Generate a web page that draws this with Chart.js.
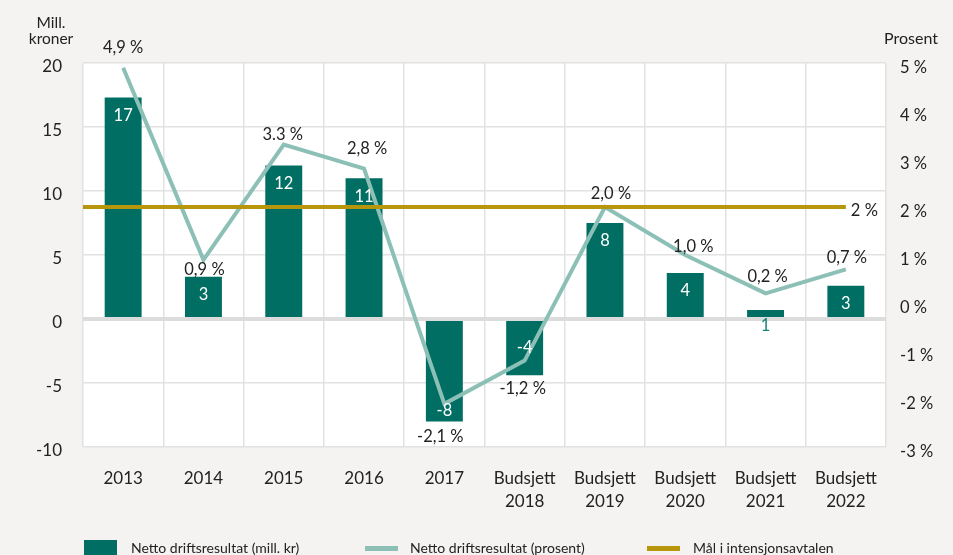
<!DOCTYPE html>
<html>
<head>
<meta charset="utf-8">
<script src="https://cdn.jsdelivr.net/npm/chart.js@4.4.1/dist/chart.umd.min.js"></script>
<style>
  html, body { margin:0; padding:0; background:#f4f3f1; }
  body { width:953px; height:555px; overflow:hidden; position:relative; font-family:Lato, "Open Sans", sans-serif; }
  #wrap { position:absolute; left:0; top:0; width:953px; height:555px; }
  #legend { position:absolute; left:0; top:538px; width:953px; height:20px; font-size:14px; color:#222; }
  .li { position:absolute; top:0; height:20px; line-height:20px; white-space:nowrap; }
  .sw { position:absolute; }
</style>
</head>
<body>
<div id="wrap"><canvas id="c" width="953" height="555"></canvas></div>
<div id="legend"></div>
<script>
const categories = [["2013"],["2014"],["2015"],["2016"],["2017"],["Budsjett","2018"],["Budsjett","2019"],["Budsjett","2020"],["Budsjett","2021"],["Budsjett","2022"]];
const resultMill = [17.3, 3.3, 12.0, 11.0, -8.0, -4.4, 7.5, 3.6, 0.7, 2.6];
const resultMillLabels = ["17","3","12","11","-8","-4","8","4","1","3"];
const resultPct = [4.9, 0.9, 3.3, 2.8, -2.1, -1.2, 2.0, 1.0, 0.2, 0.7];
const resultPctLabels = ["4,9 %","0,9 %","3.3 %","2,8 %","-2,1 %","-1,2 %","2,0 %","1,0 %","0,2 %","0,7 %"];
const targetPct = 2;
const targetLabel = "2 %";
const seriesNames = ["Netto driftsresultat (mill. kr)", "Netto driftsresultat (prosent)", "Mål i intensjonsavtalen"];
const leftTicks = {min:-10, max:20, step:5};
const rightTicks = {min:-3, max:5, step:1};

// label placement (style, not data)
const barLabelAnchor = ['end','end','end','end','end','center','end','end','below','end'];
const pctLabelDx = [0, 1, -1, 3, -4, -2, 6, 8, 2, 1];
const pctLabelDy = [-20, 10, -10, -20, 33, 28, -13, -8, -17, -12];

const BAR = '#006e62';
const LINE = '#8cc0b6';
const GOLD = '#b8960c';
const TXT = '#222222';
const FONT = 'Lato, "Open Sans", sans-serif';

const plotBg = {
  id:'plotBg',
  beforeDraw(chart){
    const {ctx, chartArea:a} = chart;
    ctx.save(); ctx.fillStyle='#ffffff';
    ctx.fillRect(a.left, a.top, a.right-a.left, a.bottom-a.top);
    ctx.restore();
  }
};

const extras = {
  id:'extras',
  afterDatasetsDraw(chart){
    const {ctx, chartArea:a, scales} = chart;
    const x = scales.x, y1 = scales.y1;
    ctx.save();
    // target line
    const ty = y1.getPixelForValue(targetPct);
    const lastX = x.getPixelForValue(categories.length-1);
    ctx.strokeStyle = GOLD; ctx.lineWidth = 4;
    ctx.beginPath(); ctx.moveTo(a.left, ty); ctx.lineTo(lastX, ty); ctx.stroke();
    ctx.fillStyle = TXT; ctx.font = '16.5px ' + FONT;
    ctx.textAlign='left'; ctx.textBaseline='middle';
    ctx.fillText(targetLabel, lastX + 5, ty + 4);

    // bar labels
    const barMeta = chart.getDatasetMeta(0);
    barMeta.data.forEach((el, i) => {
      const v = resultMill[i];
      ctx.textAlign='center'; ctx.textBaseline='middle';
      ctx.font = '16.5px ' + FONT;
      const anchor = barLabelAnchor[i];
      if (anchor === 'below') {
        ctx.fillStyle = '#1a8377';
        ctx.fillText(resultMillLabels[i], el.x, el.base + 9);
      } else {
        ctx.fillStyle = '#ffffff';
        let yy;
        if (anchor === 'center') yy = (el.y + el.base) / 2;
        else yy = v >= 0 ? el.y + 18 : el.y - 11;
        ctx.fillText(resultMillLabels[i], el.x, yy);
      }
    });

    // line labels
    const lineMeta = chart.getDatasetMeta(1);
    lineMeta.data.forEach((pt, i) => {
      ctx.fillStyle = TXT; ctx.font = '16.5px ' + FONT;
      ctx.textAlign='center'; ctx.textBaseline='middle';
      ctx.fillText(resultPctLabels[i], pt.x + pctLabelDx[i], pt.y + pctLabelDy[i]);
    });

    // axis titles
    ctx.fillStyle = TXT; ctx.font = '15.5px ' + FONT;
    ctx.textAlign='center'; ctx.textBaseline='middle';
    ctx.fillText('Mill.', 51, 23);
    ctx.fillText('kroner', 51, 39);
    ctx.font = '16px ' + FONT;
    ctx.fillText('Prosent', 911, 39);
    ctx.restore();
  }
};

const chart = new Chart(document.getElementById('c'), {
  data: {
    labels: categories,
    datasets: [
      { type:'bar', label:seriesNames[0], data:resultMill, backgroundColor:BAR, yAxisID:'y', order:2,
        barPercentage:0.46, categoryPercentage:1.0 },
      { type:'line', label:seriesNames[1], data:resultPct, borderColor:LINE, backgroundColor:LINE, borderWidth:4,
        pointRadius:0, yAxisID:'y1', order:1, tension:0 },
      { type:'line', label:seriesNames[2], data:resultPct.map(()=>targetPct), borderColor:GOLD, backgroundColor:GOLD,
        borderWidth:4, showLine:false, pointRadius:0, yAxisID:'y1', order:0 }
    ]
  },
  options: {
    responsive:false, animation:false, maintainAspectRatio:false,
    layout:{ padding:{ top:63, bottom:0, left:0, right:0 } },
    plugins:{ legend:{display:false}, tooltip:{enabled:false} },
    scales:{
      x:{
        offset:true,
        grid:{ offset:true, color:'#e2e2e2', lineWidth:1.5, drawTicks:false },
        border:{ display:false },
        ticks:{ color:TXT, font:{family:FONT, size:17, lineHeight:1.35}, padding:20, maxRotation:0, autoSkip:false },
        afterFit(s){ s.height = 108; }
      },
      y:{
        position:'left', min:leftTicks.min, max:leftTicks.max,
        grid:{ color:(c)=> c.tick && c.tick.value===0 ? '#dcdcdc' : '#e2e2e2',
               lineWidth:(c)=> c.tick && c.tick.value===0 ? 4 : 1.5, drawTicks:false },
        border:{ display:false },
        ticks:{ stepSize:leftTicks.step, color:TXT, font:{family:FONT, size:17}, padding:21, labelOffset:4 },
        afterFit(s){ s.width = 83; }
      },
      y1:{
        position:'right', min:rightTicks.min, max:rightTicks.max,
        grid:{ display:false, drawTicks:false },
        border:{ display:false },
        ticks:{ stepSize:rightTicks.step, color:TXT, font:{family:FONT, size:16.5}, padding:14, labelOffset:5,
                callback:(v)=> v + ' %' },
        afterFit(s){ s.width = 67; }
      }
    }
  },
  plugins:[plotBg, extras]
});

// HTML legend
const leg = document.getElementById('legend');
const legPos = [{sw:84, tx:131}, {sw:365, tx:410}, {sw:647, tx:693}];
chart.data.datasets.forEach((ds, i) => {
  const sw = document.createElement('div');
  sw.className='sw';
  sw.style.left = legPos[i].sw + 'px';
  if (ds.type === 'bar') { sw.style.top='2px'; sw.style.width='33px'; sw.style.height='16px'; sw.style.background=ds.backgroundColor; }
  else { sw.style.top='8px'; sw.style.width='33px'; sw.style.height='5px'; sw.style.background=ds.borderColor; }
  leg.appendChild(sw);
  const t = document.createElement('div');
  t.className='li'; t.style.left = legPos[i].tx + 'px'; t.textContent = ds.label;
  leg.appendChild(t);
});
</script>
</body>
</html>
